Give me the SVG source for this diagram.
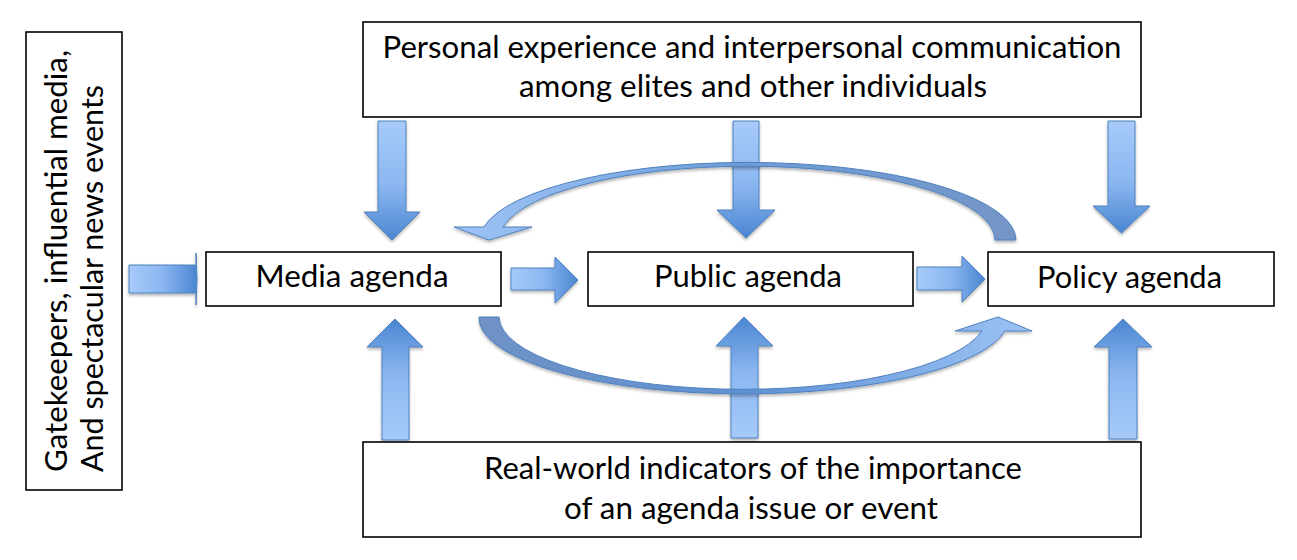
<svg xmlns="http://www.w3.org/2000/svg" width="1297" height="560" viewBox="0 0 1297 560">
<defs>
<linearGradient id="gDown" x1="0" y1="0" x2="0" y2="1"><stop offset="0" stop-color="#A6CBFA"/><stop offset="0.55" stop-color="#8AB6F0"/><stop offset="1" stop-color="#4A86D2"/></linearGradient>
<linearGradient id="gUp" x1="0" y1="1" x2="0" y2="0"><stop offset="0" stop-color="#A6CBFA"/><stop offset="0.55" stop-color="#8AB6F0"/><stop offset="1" stop-color="#4A86D2"/></linearGradient>
<linearGradient id="gRight" x1="0" y1="0" x2="1" y2="0"><stop offset="0" stop-color="#A6CBFA"/><stop offset="0.5" stop-color="#8AB6F0"/><stop offset="1" stop-color="#4A86D2"/></linearGradient>
<linearGradient id="gArcTop" x1="0" y1="0" x2="1" y2="0"><stop offset="0" stop-color="#9EC4F6"/><stop offset="0.5" stop-color="#6E9ED9"/><stop offset="1" stop-color="#7495C6"/></linearGradient>
<linearGradient id="gArcBot" x1="0" y1="0" x2="1" y2="0"><stop offset="0" stop-color="#6F92C6"/><stop offset="0.5" stop-color="#5F92D4"/><stop offset="1" stop-color="#9CC3F6"/></linearGradient>
<filter id="sh" x="-20%" y="-20%" width="140%" height="140%"><feDropShadow dx="0" dy="2" stdDeviation="1.5" flood-color="#000" flood-opacity="0.3"/></filter>
</defs>
<style>
.box{fill:#fff;stroke:#000;stroke-width:1.6}
.t{font-family:Lato,"Open Sans","Liberation Sans",sans-serif;font-size:31px;fill:#000}
.c{text-anchor:middle}
.arr{stroke:#4F81BD;stroke-width:1;filter:url(#sh)}
</style>
<rect width="1297" height="560" fill="#fff"/>
<g id="connectors">
<!-- left incoming arrow -->
<polygon class="arr" fill="url(#gRight)" points="129,265 196,265 196,253 197,279 196,305 196,293 129,293"/>
<!-- down arrows -->
<polygon class="arr" fill="url(#gDown)" points="378,121 406,121 406,212 420,212 392,240 364,212 378,212"/>
<polygon class="arr" fill="url(#gDown)" points="733,121 759,121 759,210 775,210 746,238 717,210 733,210"/>
<polygon class="arr" fill="url(#gDown)" points="1108,121 1135,121 1135,206 1150,206 1121.5,233 1093,206 1108,206"/>
<!-- up arrows -->
<polygon class="arr" fill="url(#gUp)" points="382,440 409,440 409,347 423,347 395,319 367,347 382,347"/>
<polygon class="arr" fill="url(#gUp)" points="731,438 758,438 758,346 773,346 744,317 716,346 731,346"/>
<polygon class="arr" fill="url(#gUp)" points="1109,439 1137,439 1137,347 1152,347 1123,319 1094,347 1109,347"/>
<!-- right arrows -->
<polygon class="arr" fill="url(#gRight)" points="511,268 555,268 555,257 578,280 555,303 555,290 511,290"/>
<polygon class="arr" fill="url(#gRight)" points="917,267 962,267 962,256 985,279 962,302 962,290 917,290"/>
<!-- upper curved arrow: policy -> media -->
<path class="arr" fill="url(#gArcTop)" d="M1016,240 A268 78 0 0 0 484,227 L454,227 L489,240 L532,227 L503,227 A248 74 0 0 1 995,240 Z"/>
<!-- lower curved arrow: media -> policy -->
<path class="arr" fill="url(#gArcBot)" d="M479,317 A265 76 0 0 0 1005,331 L1032,331 L998,317 L955,331 L982,331 A244 73 0 0 1 499,317 Z"/>
</g>
<g id="gatekeepers">
<rect class="box" x="26" y="32" width="96" height="458"/>
<text class="t" transform="translate(67,472) rotate(-90)" textLength="422" lengthAdjust="spacingAndGlyphs">Gatekeepers, influential media,</text>
<text class="t" transform="translate(103,472) rotate(-90)" textLength="387" lengthAdjust="spacingAndGlyphs">And spectacular news events</text>
</g>
<g id="personal">
<rect class="box" x="363" y="22" width="778" height="95"/>
<text class="t c" x="752" y="58" textLength="739" lengthAdjust="spacingAndGlyphs">Personal experience and interpersonal communication</text>
<text class="t c" x="753" y="97" textLength="468" lengthAdjust="spacingAndGlyphs">among elites and other individuals</text>
</g>
<g id="media">
<rect class="box" x="206" y="252" width="295" height="54"/>
<text class="t c" x="352" y="287" textLength="193" lengthAdjust="spacingAndGlyphs">Media agenda</text>
</g>
<g id="public">
<rect class="box" x="588" y="252" width="325" height="54"/>
<text class="t c" x="748" y="287" textLength="188" lengthAdjust="spacingAndGlyphs">Public agenda</text>
</g>
<g id="policy">
<rect class="box" x="988" y="252" width="286" height="54"/>
<text class="t c" x="1129.5" y="288" textLength="185" lengthAdjust="spacingAndGlyphs">Policy agenda</text>
</g>
<g id="realworld">
<rect class="box" x="363" y="442" width="778" height="95"/>
<text class="t c" x="753" y="479" textLength="538" lengthAdjust="spacingAndGlyphs">Real-world indicators of the importance</text>
<text class="t c" x="751" y="519" textLength="374" lengthAdjust="spacingAndGlyphs">of an agenda issue or event</text>
</g>
</svg>
